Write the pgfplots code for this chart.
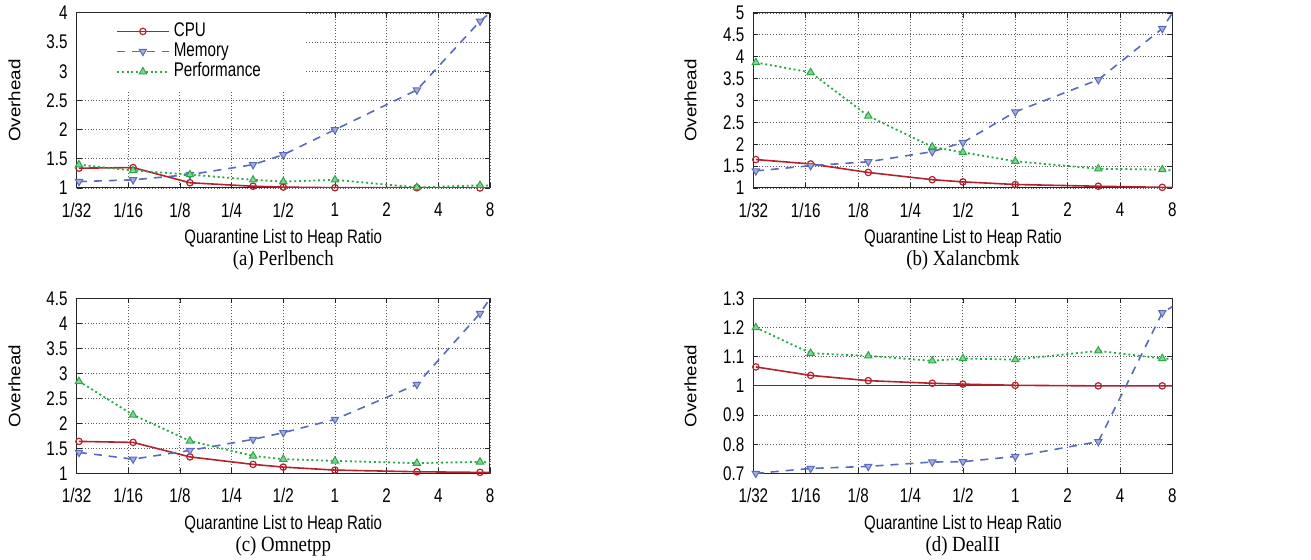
\documentclass[border=0pt]{standalone}
\usepackage{fontspec}
\setmainfont{Liberation Sans}
\newfontfamily\capfont{Liberation Serif}
\usepackage{pgfplots}
\pgfplotsset{compat=1.18}

\definecolor{cpu}{RGB}{178,34,44}
\definecolor{mem}{RGB}{90,106,190}
\definecolor{perf}{RGB}{40,170,70}

\pgfplotsset{
  ovstyle/.style={
    scale only axis,
    height=87.5pt,
    xmin=-5, xmax=3,
    xtick={-5,...,3},
    xticklabels={1/32,1/16,1/8,1/4,1/2,1,2,4,8},
    grid=major,
    major grid style={densely dotted, black!65, line width=0.45pt},
    axis line style={black!85, line width=0.5pt},
    major tick length=2.5pt,
    tick style={black!85, line width=0.4pt},
    /pgf/number format/assume math mode=true,
    tick label style={font=\fontsize{7.6}{8}\selectfont, yscale=1.3},
    xticklabel style={anchor=center, yshift=-8.5pt},
    yticklabel style={xshift=-1pt},
    xlabel={Quarantine List to Heap Ratio},
    ylabel={Overhead},
    every axis x label/.style={at={(axis description cs:0.5,-0.29)}, anchor=center,
      font=\fontsize{7.5}{8}\selectfont, yscale=1.3},
    every axis y label/.style={at={(axis description cs:-0.15,0.5)}, rotate=90, anchor=center,
      font=\fontsize{7.5}{8}\selectfont, xscale=1.25, yscale=1.1},
    every axis title shift=0pt,
    title style={at={(axis description cs:0.5,-0.415)}, anchor=center,
      font=\capfont\fontsize{9.4}{10}\selectfont, yscale=1.15},
    mark indices={1,2,3,4,5,6,7,8},
    legend image code/.code={
      \draw[#1, mark indices={2}] plot coordinates {(0pt,0pt) (13pt,0pt) (26pt,0pt)};},
  },
  cpustyle/.style={cpu, line width=0.8pt, mark=o, mark size=1.6pt, mark options={solid, line width=0.6pt}},
  memstyle/.style={mem, line width=0.8pt, dash pattern=on 4pt off 3.5pt, mark=triangle*, mark size=2.1pt,
    mark options={solid, rotate=180, fill=mem!55, line width=0.5pt}},
  perfstyle/.style={perf, line width=0.9pt, dash pattern=on 1pt off 1.4pt, mark=triangle*, mark size=2.1pt,
    mark options={solid, fill=perf!55, line width=0.5pt}},
}

\begin{document}
\begin{tikzpicture}

% (a) Perlbench
\begin{axis}[ovstyle, width=206.7pt, at={(38.3pt,-6.5pt)}, anchor=north west,
  ymin=1, ymax=4, ytick={1,1.5,...,4},
  title={(a) Perlbench},
  legend style={at={(0,1)}, anchor=north west, draw=none, fill=white,
    font=\fontsize{7.6}{9}\selectfont, nodes={yscale=1.3}, row sep=-4pt,
    inner xsep=19.5pt, inner ysep=2pt},
  legend cell align=left]
\addplot[cpustyle] coordinates {(-4.954,1.34) (-3.907,1.35) (-2.807,1.09) (-1.585,1.03) (-1,1.015) (0,1.005) (1.585,1.004) (2.807,1.0) (3.907,1.0)};
\addplot[memstyle] coordinates {(-4.954,1.11) (-3.907,1.14) (-2.807,1.23) (-1.585,1.40) (-1,1.57) (0,2.00) (1.585,2.68) (2.807,3.86) (3.907,4.66)};
\addplot[perfstyle] coordinates {(-4.954,1.40) (-3.907,1.30) (-2.807,1.23) (-1.585,1.14) (-1,1.11) (0,1.14) (1.585,1.01) (2.807,1.045) (3.907,1.03)};
\legend{CPU,Memory,Performance}
\end{axis}

% (b) Xalancbmk
\begin{axis}[ovstyle, width=209.5pt, at={(376.7pt,-6.5pt)}, anchor=north west,
  ymin=1, ymax=5, ytick={1,1.5,...,5},
  title={(b) Xalancbmk}]
\addplot[cpustyle] coordinates {(-4.954,1.65) (-3.907,1.55) (-2.807,1.355) (-1.585,1.19) (-1,1.14) (0,1.08) (1.585,1.04) (2.807,1.015) (3.907,1.0)};
\addplot[memstyle] coordinates {(-4.954,1.39) (-3.907,1.51) (-2.807,1.60) (-1.585,1.83) (-1,2.04) (0,2.74) (1.585,3.475) (2.807,4.645) (3.907,6.67)};
\addplot[perfstyle] coordinates {(-4.954,3.87) (-3.907,3.64) (-2.807,2.645) (-1.585,1.94) (-1,1.815) (0,1.61) (1.585,1.44) (2.807,1.42) (3.907,1.31)};
\end{axis}

% (c) Omnetpp
\begin{axis}[ovstyle, width=206.7pt, at={(38.3pt,-149.2pt)}, anchor=north west,
  ymin=1, ymax=4.5, ytick={1,1.5,...,4.5},
  title={(c) Omnetpp}]
\addplot[cpustyle] coordinates {(-4.954,1.64) (-3.907,1.62) (-2.807,1.33) (-1.585,1.18) (-1,1.126) (0,1.066) (1.585,1.033) (2.807,1.02) (3.907,1.01)};
\addplot[memstyle] coordinates {(-4.954,1.42) (-3.907,1.285) (-2.807,1.46) (-1.585,1.68) (-1,1.815) (0,2.08) (1.585,2.78) (2.807,4.20) (3.907,5.9)};
\addplot[perfstyle] coordinates {(-4.954,2.84) (-3.907,2.17) (-2.807,1.65) (-1.585,1.35) (-1,1.285) (0,1.25) (1.585,1.205) (2.807,1.23) (3.907,1.17)};
\end{axis}

% (d) DealII
\begin{axis}[ovstyle, width=209.5pt, at={(376.7pt,-149.2pt)}, anchor=north west,
  ymin=0.7, ymax=1.3, ytick={0.7,0.8,...,1.3},
  title={(d) DealII}]
\addplot[black!75, line width=0.6pt, forget plot] coordinates {(-5,1) (3,1)};
\addplot[cpustyle] coordinates {(-4.954,1.065) (-3.907,1.036) (-2.807,1.018) (-1.585,1.009) (-1,1.006) (0,1.002) (1.585,1.0) (2.807,1.0) (3.907,1.0)};
\addplot[memstyle] coordinates {(-4.954,0.70) (-3.907,0.717) (-2.807,0.724) (-1.585,0.739) (-1,0.74) (0,0.758) (1.585,0.809) (2.807,1.251) (3.907,1.37)};
\addplot[perfstyle] coordinates {(-4.954,1.2) (-3.907,1.112) (-2.807,1.103) (-1.585,1.086) (-1,1.094) (0,1.09) (1.585,1.12) (2.807,1.094) (3.907,1.08)};
\end{axis}

\pgfresetboundingbox
\path[use as bounding box] (0,0) rectangle (655.5pt,-280pt);
\end{tikzpicture}
\end{document}
